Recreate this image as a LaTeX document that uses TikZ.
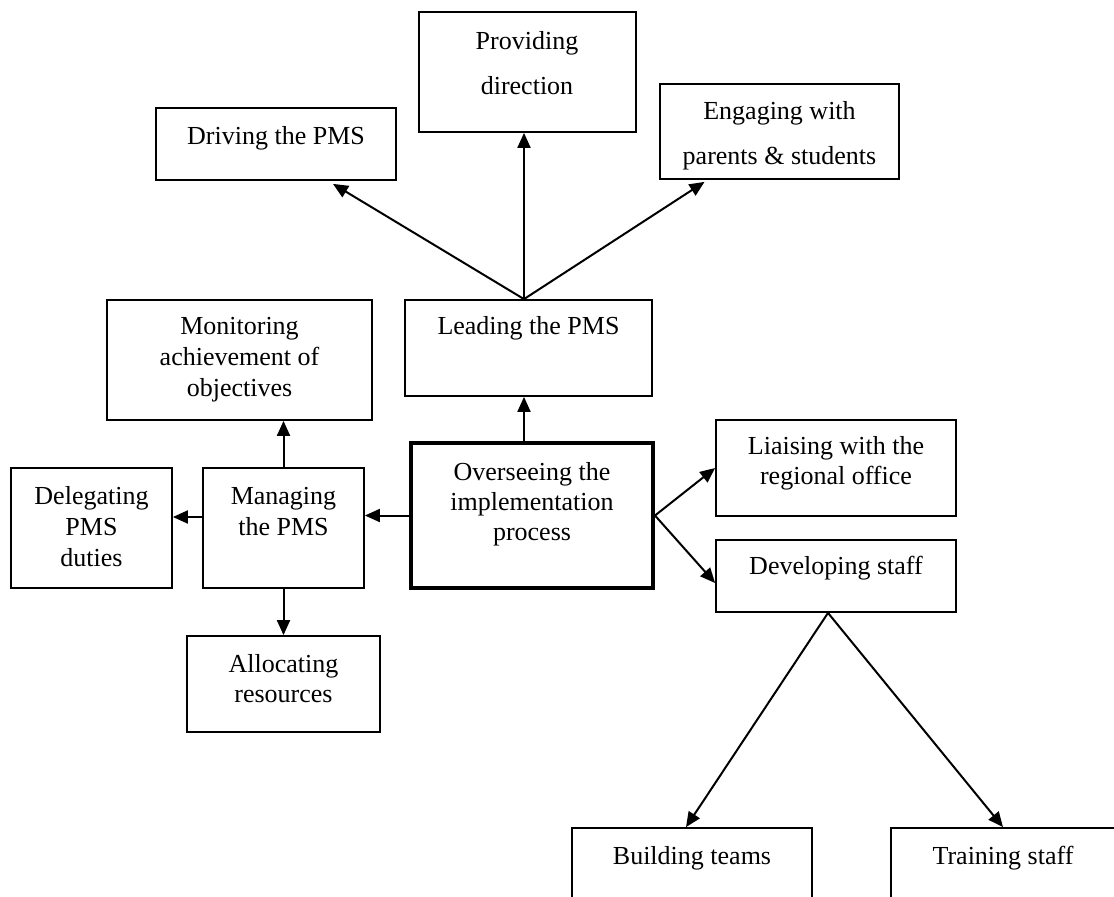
\documentclass[tikz,border=0pt]{standalone}
\usepackage{fontspec}
\setmainfont{Liberation Serif}
\usetikzlibrary{arrows.meta,calc}
\tikzset{
  box/.style={draw=black, line width=1.8pt, inner sep=0pt, fill=none},
  thickbox/.style={draw=black, line width=4pt, inner sep=0pt},
  txt/.style={align=center, inner sep=0pt, font=\fontsize{26}{31}\selectfont},
  wtxt/.style={align=center, inner sep=0pt, font=\fontsize{26}{45}\selectfont},
  arr/.style={line width=2pt, -{Triangle[length=15pt,width=13pt]}},
}
\begin{document}
\begin{tikzpicture}[x=1pt,y=-1pt]
\useasboundingbox (0,0) rectangle (1114,897);
\clip (0,0) rectangle (1114,897);
% boxes
\node[box, minimum width=217pt, minimum height=120pt] (prov) at (527.5,72) {};
\node[box, minimum width=240pt, minimum height=72pt] (drive) at (276,144) {};
\node[box, minimum width=239pt, minimum height=95pt] (eng) at (779.5,131.5) {};
\node[box, minimum width=247pt, minimum height=96pt] (lead) at (528.5,348) {};
\node[box, minimum width=265pt, minimum height=120pt] (mon) at (239.5,360) {};
\node[thickbox, minimum width=242pt, minimum height=145pt] (over) at (532,515.5) {};
\node[box, minimum width=161pt, minimum height=120pt] (man) at (283.5,528) {};
\node[box, minimum width=161pt, minimum height=120pt] (dele) at (91.5,528) {};
\node[box, minimum width=193pt, minimum height=96pt] (alloc) at (283.5,684) {};
\node[box, minimum width=240pt, minimum height=96pt] (lia) at (836,468) {};
\node[box, minimum width=240pt, minimum height=72pt] (dev) at (836,576) {};
\node[box, minimum width=240pt, minimum height=132pt] (build) at (692,894) {};
\node[box, minimum width=240pt, minimum height=132pt] (train) at (1011,894) {};
% texts
\node[wtxt] (provT) at (527,63) {Providing\\direction};
\node[txt] (driveT) at (276,138) {Driving the PMS};
\node[wtxt] (engT) at (779.5,135.5) {Engaging with\\parents \& students};
\node[txt] (leadT) at (528.5,328) {Leading the PMS};
\node[txt] (monT) at (239.5,360) {Monitoring\\achievement of\\objectives};
\node[txt, font=\fontsize{26}{30}\selectfont] (overT) at (532,504) {Overseeing the\\implementation\\process};
\node[txt] (manT) at (283.5,511.5) {Managing\\the PMS};
\node[txt] (deleT) at (91.5,527) {Delegating\\PMS\\duties};
\node[txt, font=\fontsize{26}{30}\selectfont] (allocT) at (283.5,679) {Allocating\\resources};
\node[txt, font=\fontsize{26}{30}\selectfont] (liaT) at (836,463) {Liaising with the\\regional office};
\node[txt] (devT) at (836,568) {Developing staff};
\node[txt] (buildT) at (692,858) {Building teams};
\node[txt] (trainT) at (1003,858) {Training staff};
% connectors
\coordinate (leadtop) at ($(lead.north)+(-4.5,0)$);
\coordinate (overtop) at ($(over.north)+(-8,0)$);
\coordinate (manleft) at ($(man.west)+(0,-11)$);
\coordinate (devbot) at ($(dev.south)+(-8,0)$);
\draw[arr] (leadtop) -- (leadtop |- prov.south);
\draw[arr] (leadtop) -- ($(drive.south)+(57,3)$);
\draw[arr] (leadtop) -- ($(eng.south)+(-75,2)$);
\draw[arr] (overtop) -- (overtop |- lead.south);
\draw[arr] (over.west) -- (over.west -| man.east);
\draw[arr] (manleft) -- (manleft -| dele.east);
\draw[arr] (man.north) -- (man.north |- mon.south);
\draw[arr] (man.south) -- (alloc.north);
\draw[arr] (over.east) -- (lia.west);
\draw[arr] (over.east) -- ($(dev.west)+(0,7)$);
\draw[arr] (devbot) -- ($(build.north)+(-6,0)$);
\draw[arr] (devbot) -- ($(train.north)+(-8,0)$);
\end{tikzpicture}
\end{document}
